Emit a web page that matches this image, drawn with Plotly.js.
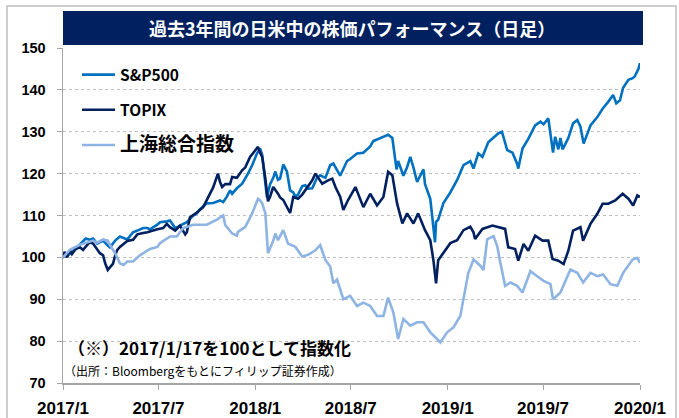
<!DOCTYPE html>
<html>
<head>
<meta charset="utf-8">
<script src="https://cdn.plot.ly/plotly-3.0.1.min.js"></script>
<style>html,body{margin:0;padding:0;background:#fff;}#chart{width:679px;height:418px;}</style>
</head>
<body>
<div id="chart"></div>
<script>
// ---- data ----
const seriesNames = ["S&P500", "TOPIX", "上海総合指数"];

const spDates = ["2017-01-17","2017-01-30","2017-02-10","2017-02-18","2017-03-01","2017-03-09","2017-03-15","2017-03-23","2017-04-03","2017-04-12","2017-04-16","2017-04-26","2017-05-05","2017-05-19","2017-05-30","2017-06-07","2017-06-18","2017-06-26","2017-07-01","2017-07-15","2017-07-20","2017-08-02","2017-08-08","2017-08-18","2017-08-21","2017-08-27","2017-09-09","2017-09-21","2017-09-28","2017-10-04","2017-10-17","2017-10-29","2017-11-11","2017-11-17","2017-11-24","2017-11-30","2017-12-04","2017-12-13","2017-12-23","2018-01-03","2018-01-11","2018-01-20","2018-01-26","2018-01-30","2018-02-05","2018-02-08","2018-02-14","2018-02-20","2018-02-24","2018-03-01","2018-03-05","2018-03-11","2018-03-18","2018-03-24","2018-03-30","2018-04-03","2018-04-08","2018-04-16","2018-04-22","2018-04-27","2018-05-05","2018-05-14","2018-05-20","2018-05-30","2018-06-08","2018-06-14","2018-06-27","2018-07-10","2018-07-16","2018-07-29","2018-08-10","2018-08-23","2018-08-29","2018-09-17","2018-09-26","2018-10-04","2018-10-09","2018-10-12","2018-10-15","2018-10-25","2018-11-01","2018-11-07","2018-11-13","2018-11-20","2018-12-02","2018-12-05","2018-12-15","2018-12-21","2018-12-24","2018-12-26","2018-12-30","2019-01-09","2019-01-22","2019-02-04","2019-02-16","2019-03-01","2019-03-07","2019-03-16","2019-03-24","2019-04-04","2019-04-14","2019-04-23","2019-04-30","2019-05-06","2019-05-10","2019-05-20","2019-05-29","2019-05-31","2019-06-08","2019-06-19","2019-07-02","2019-07-12","2019-07-18","2019-07-27","2019-08-02","2019-08-05","2019-08-09","2019-08-15","2019-08-19","2019-08-23","2019-08-28","2019-09-03","2019-09-12","2019-09-20","2019-09-26","2019-10-02","2019-10-09","2019-10-15","2019-10-28","2019-11-07","2019-11-18","2019-11-27","2019-12-03","2019-12-10","2019-12-16","2019-12-26","2020-01-03","2020-01-07","2020-01-14","2020-01-17"];
const spVals = [100,100.8,102,103,104.5,104.2,104.5,103.3,104,102.8,102.4,104,105,104.3,106,106.4,107,107,106.7,107.8,108.4,108.6,108.8,107,107.2,107.5,108.4,110,110.5,111.5,112.9,113,113.6,113.2,114.5,116,115.2,116.5,117.6,120,122,124.8,126,124.5,117.6,114.3,117.5,119,120.5,118.5,118.8,122.2,120.5,116,115.5,114.5,115,117,117.2,116.4,116.5,119,119.6,119,122,122.4,119.5,123,123.5,124.8,125,126.5,127.8,128.7,129.3,128.5,123,121,123,119.5,121.5,124,121.5,118,121,117.5,114,106.5,103.6,108.5,109,113,115.5,118.5,122,123,121.2,124.8,124,127.5,128.7,129.6,130,127,125.6,125,122.3,121.2,126,128.3,131.5,132.4,131.8,133.2,128.3,125,128.8,125.8,128.5,125.8,127,128.5,132,132.8,131.2,127.2,129.5,131.5,133.5,135.5,137.2,138.8,136.8,137.5,140.5,142.4,142.8,143.2,145,146.4];

const tpDates = ["2017-01-17","2017-01-20","2017-01-25","2017-01-30","2017-02-03","2017-02-10","2017-02-18","2017-02-24","2017-03-04","2017-03-09","2017-03-15","2017-03-23","2017-03-28","2017-04-03","2017-04-07","2017-04-12","2017-04-16","2017-04-22","2017-04-26","2017-04-30","2017-05-05","2017-05-19","2017-05-30","2017-06-07","2017-06-18","2017-06-26","2017-07-15","2017-07-26","2017-08-02","2017-08-08","2017-08-18","2017-08-27","2017-09-06","2017-09-09","2017-09-15","2017-09-28","2017-10-10","2017-10-17","2017-10-29","2017-11-07","2017-11-11","2017-11-15","2017-11-21","2017-11-30","2017-12-04","2017-12-13","2017-12-23","2017-12-29","2018-01-07","2018-01-17","2018-01-22","2018-01-26","2018-01-30","2018-02-05","2018-02-10","2018-02-14","2018-02-20","2018-03-01","2018-03-05","2018-03-11","2018-03-20","2018-03-24","2018-03-30","2018-04-08","2018-04-16","2018-04-22","2018-05-05","2018-05-11","2018-05-16","2018-05-24","2018-06-04","2018-06-12","2018-06-18","2018-06-27","2018-07-03","2018-07-12","2018-07-26","2018-08-10","2018-08-23","2018-09-05","2018-09-17","2018-09-26","2018-10-04","2018-10-13","2018-10-23","2018-11-01","2018-11-13","2018-11-22","2018-12-05","2018-12-15","2018-12-21","2018-12-26","2018-12-30","2019-01-09","2019-01-22","2019-02-04","2019-02-16","2019-03-01","2019-03-07","2019-03-10","2019-03-24","2019-04-12","2019-04-23","2019-05-06","2019-05-12","2019-05-25","2019-05-31","2019-06-10","2019-06-19","2019-07-02","2019-07-16","2019-07-27","2019-08-04","2019-08-15","2019-08-25","2019-09-03","2019-09-12","2019-09-26","2019-10-01","2019-10-15","2019-10-28","2019-11-07","2019-11-18","2019-12-01","2019-12-15","2019-12-26","2020-01-04","2020-01-12","2020-01-17"];
const tpVals = [100,101.3,100,101.8,100.8,102,102.4,101.8,103,103.6,103.3,102,101,100.5,98.6,97,97.5,98.5,100.5,101.8,102.5,103.9,104.2,105.5,105.8,106,106.7,107,108,107.2,106.4,107.6,105.5,106,109.6,110.7,112,113.6,116.7,120,118,116.8,117.5,117.5,119.2,119,120.8,121.5,124,125.6,126.4,125,124,118.8,113.4,114.5,116.8,115.2,114.3,113.7,111.3,110.6,114.4,114,115,116,118.4,120,119.1,117.6,118.4,118.8,116.8,114.5,111.3,113.7,116.8,112,115.2,112.4,114.4,120.4,119.6,112.9,108.1,110.5,108.1,110.5,106.5,104.1,99.3,93.8,99.3,101,103.4,104.1,106.5,107.3,106,104.4,106.8,107.6,107.2,106.8,102.4,102,99.2,103.2,101.6,105.2,104,104,99.6,99.2,98.4,101.6,106.4,107.2,104,108,110.4,112.8,112.8,113.6,115.2,114,112.4,114.8,114.4];

const shDates = ["2017-01-17","2017-01-30","2017-02-18","2017-03-04","2017-03-15","2017-03-23","2017-04-03","2017-04-12","2017-04-16","2017-04-26","2017-05-05","2017-05-12","2017-05-19","2017-05-30","2017-06-12","2017-07-01","2017-07-15","2017-07-20","2017-08-08","2017-08-21","2017-09-02","2017-09-21","2017-10-17","2017-11-05","2017-11-15","2017-11-17","2017-11-21","2017-11-30","2017-12-04","2017-12-13","2017-12-15","2017-12-29","2018-01-11","2018-01-22","2018-01-26","2018-01-30","2018-02-05","2018-02-10","2018-02-20","2018-02-24","2018-03-01","2018-03-11","2018-03-20","2018-04-03","2018-04-16","2018-04-27","2018-05-11","2018-05-20","2018-05-30","2018-06-08","2018-06-14","2018-06-21","2018-07-03","2018-07-16","2018-07-29","2018-08-10","2018-08-23","2018-09-05","2018-09-17","2018-09-26","2018-10-06","2018-10-15","2018-10-25","2018-11-07","2018-11-20","2018-12-02","2018-12-15","2018-12-28","2019-01-03","2019-01-16","2019-01-28","2019-02-10","2019-02-19","2019-02-25","2019-03-07","2019-03-20","2019-03-26","2019-04-02","2019-04-14","2019-04-21","2019-04-27","2019-05-06","2019-05-16","2019-05-29","2019-06-08","2019-06-23","2019-07-06","2019-07-18","2019-07-31","2019-08-05","2019-08-19","2019-09-07","2019-09-20","2019-10-01","2019-10-15","2019-10-28","2019-11-08","2019-11-22","2019-12-05","2019-12-16","2020-01-03","2020-01-12","2020-01-17"];
const shVals = [100,101.8,103,103.5,104,103.5,104.3,104,103,101,98.6,98.2,99,99,100.5,102,102.5,103.4,105,105,107,107.8,107.8,109,109.7,110,107.7,106.4,105.7,105.2,106.1,107.3,110.5,114,113.6,112.9,110.5,101,104,105.7,104.1,106.5,103.3,102.5,100.2,100.6,101.7,102.9,99.4,97.8,93.8,94.7,90,90.8,88.4,89.2,88.4,86,86,90.4,86.8,80.5,85.3,83.7,84.5,84.5,82.1,80.5,79.7,82.1,83.3,86,92.3,96.2,99.5,98,97,104.3,105.1,102.7,98.7,93.2,94,93.2,91.6,96.7,95.5,94.4,93.6,90,91.6,97.1,96.3,94,96.3,95.5,95.9,93.6,93.2,96.3,99.5,99.9,98.7];

const xTickVals = ["2017-01-17","2017-07-17","2018-01-17","2018-07-17","2019-01-17","2019-07-17","2020-01-17"];
const xTickText = ["2017/1","2017/7","2018/1","2018/7","2019/1","2019/7","2020/1"];
const yTickVals = [70,80,90,100,110,120,130,140,150];

const chartTitle = "過去3年間の日米中の株価パフォーマンス（日足）";
const noteText = "（※）2017/1/17を100として指数化";
const sourceText = "（出所：Bloombergをもとにフィリップ証券作成）";

// ---- styling ----
const colors = ["#0070C0", "#002060", "#8DB4E2"];
const latin = "'Liberation Sans', Arial, sans-serif";
const cjk = "'Noto Sans CJK JP', 'Liberation Sans', sans-serif";

function mk(x, y, i, label) {
  return {
    x: x, y: y, type: "scatter", mode: "lines", name: label,
    legendgroup: "g" + i,
    line: {color: colors[i], width: 2.6},
    hoverinfo: "skip"
  };
}

const traces = [
  mk(spDates, spVals, 0, seriesNames[0]),
  mk(tpDates, tpVals, 1, seriesNames[1]),
  mk(shDates, shVals, 2, "<span style='font-size:19px'>" + seriesNames[2] + "</span>")
];

const layout = {
  width: 679, height: 418,
  margin: {l: 63, r: 39, t: 48, b: 35},
  paper_bgcolor: "#ffffff", plot_bgcolor: "#ffffff",
  showlegend: true,
  legend: {
    x: (77 - 63) / 577, y: 0.97, xanchor: "left", yanchor: "top",
    bgcolor: "rgba(0,0,0,0)",
    font: {family: cjk, size: 15.5, color: "#000", weight: "bold"},
    tracegroupgap: 12,
    itemwidth: 33,
    traceorder: "grouped"
  },
  xaxis: {
    type: "date",
    range: ["2017-01-17", "2020-01-17"],
    tickmode: "array", tickvals: xTickVals, ticktext: xTickText,
    showgrid: false, zeroline: false,
    showline: true, linecolor: "#A6A6A6", linewidth: 1.5,
    ticks: "outside", ticklen: 5, tickcolor: "#A6A6A6", tickwidth: 1,
    tickfont: {family: latin, size: 17, color: "#000", weight: "bold"},
    ticklabelstandoff: 4
  },
  yaxis: {
    range: [70, 150],
    tickmode: "array", tickvals: yTickVals,
    showgrid: true, gridcolor: "#BFBFBF", griddash: "dot", gridwidth: 1,
    zeroline: false,
    showline: true, linecolor: "#A6A6A6", linewidth: 1.5,
    ticks: "outside", ticklen: 5, tickcolor: "#A6A6A6", tickwidth: 1,
    tickfont: {family: latin, size: 14.5, color: "#000", weight: "bold"},
    ticklabelstandoff: 8
  },
  shapes: [
    {type: "rect", xref: "paper", yref: "paper",
     x0: (63 - 63) / 577, x1: (643 - 63) / 577,
     y0: (383 - 45) / 335, y1: (383 - 11) / 335,
     fillcolor: "#002060", line: {width: 0}, layer: "above"},
    {type: "rect", xref: "paper", yref: "paper",
     x0: (7 - 63) / 577, x1: (676 - 63) / 577,
     y0: (383 - 430) / 335, y1: (383 - 6) / 335,
     fillcolor: "rgba(0,0,0,0)", line: {color: "#BFBFBF", width: 1.5}, layer: "below"}
  ],
  annotations: [
    {xref: "paper", yref: "paper", x: (352 - 63) / 577, y: (383 - 28) / 335,
     xanchor: "center", yanchor: "middle", showarrow: false,
     text: chartTitle,
     font: {family: cjk, size: 18, color: "#ffffff", weight: "bold"}},
    {xref: "paper", yref: "paper", x: (66 - 63) / 577, y: (383 - 347) / 335,
     xanchor: "left", yanchor: "middle", showarrow: false,
     text: noteText,
     font: {family: cjk, size: 17, color: "#000", weight: "bold"}},
    {xref: "paper", yref: "paper", x: (62 - 63) / 577, y: (383 - 370) / 335,
     xanchor: "left", yanchor: "middle", showarrow: false,
     text: sourceText,
     font: {family: cjk, size: 12, color: "#000"}}
  ]
};

Plotly.newPlot("chart", traces, layout, {staticPlot: true, displayModeBar: false});
</script>
</body>
</html>
